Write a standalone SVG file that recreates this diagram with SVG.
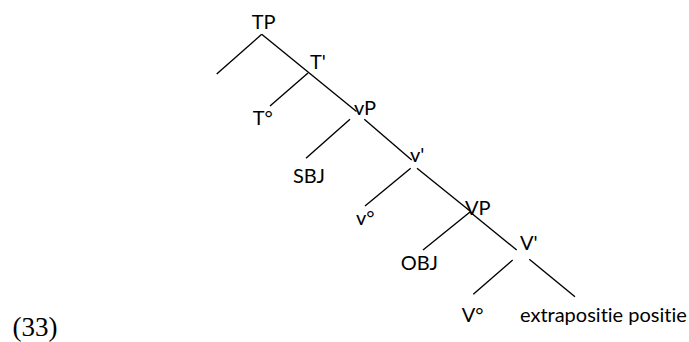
<svg xmlns="http://www.w3.org/2000/svg" width="689" height="342" viewBox="0 0 689 342">
<style>
.lbl{font-family:Lato,"Open Sans","Liberation Sans",sans-serif;font-size:20px;fill:#000;font-variant-ligatures:none;font-feature-settings:"liga" 0}
.num{font-family:"Liberation Serif",serif;font-size:27px;fill:#000}
.edge{stroke:#000;stroke-width:1.4;fill:none;stroke-linecap:butt}
</style>
<rect width="689" height="342" fill="#fff"/>
<g id="connectors">
<line class="edge" x1="261.7" y1="34.3" x2="216.7" y2="74"/>
<line class="edge" x1="261.7" y1="34.3" x2="356.5" y2="111.5"/>
<line class="edge" x1="308" y1="73" x2="270" y2="106"/>
<line class="edge" x1="350" y1="119.3" x2="306" y2="158.3"/>
<line class="edge" x1="364.3" y1="119.3" x2="411.7" y2="160"/>
<line class="edge" x1="410.7" y1="168.3" x2="365" y2="206"/>
<line class="edge" x1="417" y1="168.3" x2="470" y2="211"/>
<line class="edge" x1="470" y1="212" x2="423" y2="250"/>
<line class="edge" x1="470" y1="212" x2="516.7" y2="250"/>
<line class="edge" x1="512.7" y1="260" x2="473.3" y2="294.3"/>
<line class="edge" x1="529.3" y1="259.3" x2="575" y2="296.7"/>
</g>
<g id="TP"><text class="lbl" x="251.7" y="29.3">TP</text></g>
<g id="Tbar"><text class="lbl" x="310" y="69">T'</text></g>
<g id="T0"><text class="lbl" x="252.7" y="125">T°</text></g>
<g id="vP"><text class="lbl" x="354" y="115">vP</text></g>
<g id="SBJ"><text class="lbl" x="293" y="183">SBJ</text></g>
<g id="vbar"><text class="lbl" x="410" y="162">v'</text></g>
<g id="v0"><text class="lbl" x="356" y="225">v°</text></g>
<g id="VP"><text class="lbl" x="465" y="215">VP</text></g>
<g id="OBJ"><text class="lbl" x="400.7" y="270">OBJ</text></g>
<g id="Vbar"><text class="lbl" x="520" y="250">V'</text></g>
<g id="V0"><text class="lbl" x="461.7" y="321.7">V°</text></g>
<g id="extra"><text class="lbl" x="520" y="321.7">extrapositie positie</text></g>
<g id="label33"><text class="num" x="12.5" y="336">(33)</text></g>
</svg>
